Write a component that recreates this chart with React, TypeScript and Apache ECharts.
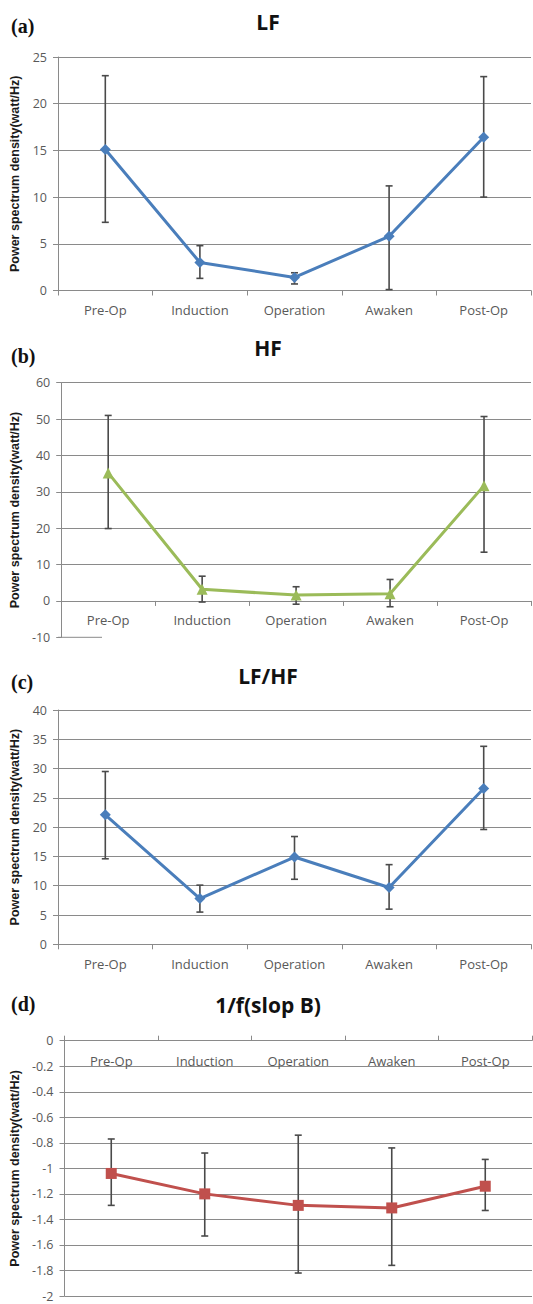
import React, { useEffect, useRef } from "react";
import * as echarts from "echarts";

const categories = ["Pre-Op", "Induction", "Operation", "Awaken", "Post-Op"];

const lfMean = [15.1, 3.0, 1.4, 5.8, 16.4];
const lfLow = [7.3, 1.3, 0.7, 0.1, 10.0];
const lfHigh = [23.0, 4.8, 1.9, 11.2, 22.9];

const hfMean = [35.2, 3.2, 1.6, 2.0, 31.7];
const hfLow = [19.9, -0.3, -0.9, -1.6, 13.4];
const hfHigh = [51.0, 6.8, 3.9, 5.9, 50.7];

const ratioMean = [22.1, 7.8, 14.9, 9.7, 26.6];
const ratioLow = [14.6, 5.5, 11.1, 6.0, 19.6];
const ratioHigh = [29.5, 10.1, 18.4, 13.6, 33.8];

const slopeMean = [-1.04, -1.2, -1.29, -1.31, -1.14];
const slopeLow = [-1.29, -1.53, -1.82, -1.76, -1.33];
const slopeHigh = [-0.77, -0.88, -0.74, -0.84, -0.93];

const panelTitles = ["LF", "HF", "LF/HF", "1/f(slop B)"];
const panelTags = ["(a)", "(b)", "(c)", "(d)"];
const yName = "Power spectrum density(watt/Hz)";

const GRID = "#8a8a8a";
const LABEL = "#595959";

export default function App() {
  const ref = useRef<HTMLDivElement>(null);
  useEffect(() => {
    if (!ref.current) return;
    const chart = echarts.init(ref.current, null, { renderer: "svg" });

    const grids = [
      { left: 58, top: 57, width: 473, height: 233.5 },
      { left: 58, top: 382.7, width: 473, height: 254.6 },
      { left: 58, top: 710, width: 473, height: 234.3 },
      { left: 60, top: 1040.7, width: 472, height: 255.3 },
    ];
    const yRanges = [
      { min: 0, max: 25, interval: 5 },
      { min: -10, max: 60, interval: 10 },
      { min: 0, max: 40, interval: 5 },
      { min: -2, max: 0, interval: 0.2 },
    ];
    const titleY = [22, 348, 676, 1005];
    const tagY = [26, 356, 682, 1004];

    const xAxis = grids.map((g, i) => {
      const r = yRanges[i];
      // place bottom axes at the value 0 of their y axis
      const zeroOffset = i === 3 ? 0 : -g.height * (Math.max(0, -r.min) / (r.max - r.min));
      return {
        type: "category",
        gridIndex: i,
        position: i === 3 ? "top" : "bottom",
        offset: zeroOffset,
        data: categories,
        boundaryGap: true,
        axisLine: { onZero: false, lineStyle: { color: GRID, width: 1 } },
        axisTick: { show: true, inside: false, length: 5, lineStyle: { color: GRID } },
        axisLabel: {
          color: LABEL,
          fontSize: 13,
          fontFamily: "Open Sans",
          margin: i === 3 ? 14 : 13,
          inside: i === 3,
        },
        splitLine: { show: false },
      };
    });

    const yAxis = grids.map((_, i) => {
      const r = yRanges[i];
      const n = Math.round((r.max - r.min) / r.interval) + 1;
      const colors: string[] = [];
      for (let k = 0; k < n; k++) colors.push(GRID);
      if (i === 1) colors[0] = "rgba(0,0,0,0)";
      return {
        type: "value",
        gridIndex: i,
        min: r.min,
        max: r.max,
        interval: r.interval,
        name: yName,
        nameLocation: "middle",
        nameRotate: 90,
        nameGap: 36,
        nameTextStyle: { fontSize: 12.5, fontWeight: "bold", color: "#1a1a1a", fontFamily: "Liberation Sans" },
        axisLine: { show: true, lineStyle: { color: GRID, width: 1 } },
        axisTick: { show: true, length: 5, lineStyle: { color: GRID } },
        axisLabel: { color: LABEL, fontSize: 12.5, fontFamily: "Open Sans", margin: 11 },
        splitLine: { show: true, lineStyle: { color: colors, width: 1 } },
      };
    });

    const means = [lfMean, hfMean, ratioMean, slopeMean];
    const lows = [lfLow, hfLow, ratioLow, slopeLow];
    const highs = [lfHigh, hfHigh, ratioHigh, slopeHigh];
    const colors = ["#4A7EBB", "#9BBB59", "#4A7EBB", "#C0504D"];
    const symbols = ["diamond", "triangle", "diamond", "rect"];
    const sizes = [11, 11, 11, 11];

    const series: any[] = [];
    for (let i = 0; i < 4; i++) {
      series.push({
        type: "custom",
        xAxisIndex: i,
        yAxisIndex: i,
        z: 2,
        data: categories.map((_, k) => [k, lows[i][k], highs[i][k]]),
        encode: { x: 0, y: [1, 2] },
        renderItem: (params: any, api: any) => {
          const idx = api.value(0);
          const lo = api.coord([idx, api.value(1)]);
          const hi = api.coord([idx, api.value(2)]);
          const hw = 3.5;
          const style = { stroke: "#4a4a4a", lineWidth: 1.6 };
          return {
            type: "group",
            children: [
              { type: "line", shape: { x1: lo[0], y1: lo[1], x2: hi[0], y2: hi[1] }, style },
              { type: "line", shape: { x1: lo[0] - hw, y1: lo[1], x2: lo[0] + hw, y2: lo[1] }, style },
              { type: "line", shape: { x1: hi[0] - hw, y1: hi[1], x2: hi[0] + hw, y2: hi[1] }, style },
            ],
          };
        },
      });
      series.push({
        type: "line",
        xAxisIndex: i,
        yAxisIndex: i,
        z: 3,
        data: means[i],
        symbol: symbols[i],
        symbolSize: sizes[i],
        lineStyle: { color: colors[i], width: 3 },
        itemStyle: { color: colors[i] },
      });
    }

    const graphic: any[] = [];
    for (let i = 0; i < 4; i++) {
      graphic.push({
        type: "text",
        x: 268,
        y: titleY[i],
        style: {
          text: panelTitles[i],
          fontSize: 21,
          fontWeight: "bold",
          fontFamily: "Open Sans",
          fill: "#111",
          align: "center",
          verticalAlign: "middle",
        },
      });
      graphic.push({
        type: "text",
        x: 11,
        y: tagY[i],
        style: {
          text: panelTags[i],
          fontSize: 20,
          fontWeight: "bold",
          fontFamily: "Liberation Serif",
          fill: "#111",
          align: "left",
          verticalAlign: "middle",
        },
      });
    }
    // short stub line at the -10 level of panel (b)
    graphic.push({
      type: "line",
      shape: { x1: 58, y1: 637.3, x2: 102, y2: 637.3 },
      style: { stroke: GRID, lineWidth: 1 },
    });

    chart.setOption({
      animation: false,
      backgroundColor: "#ffffff",
      grid: grids,
      xAxis,
      yAxis,
      series,
      graphic,
    });
    return () => chart.dispose();
  }, []);

  return (
    <div
      ref={ref}
      style={{ position: "absolute", left: 0, top: 0, width: 533, height: 1304 }}
    />
  );
}
